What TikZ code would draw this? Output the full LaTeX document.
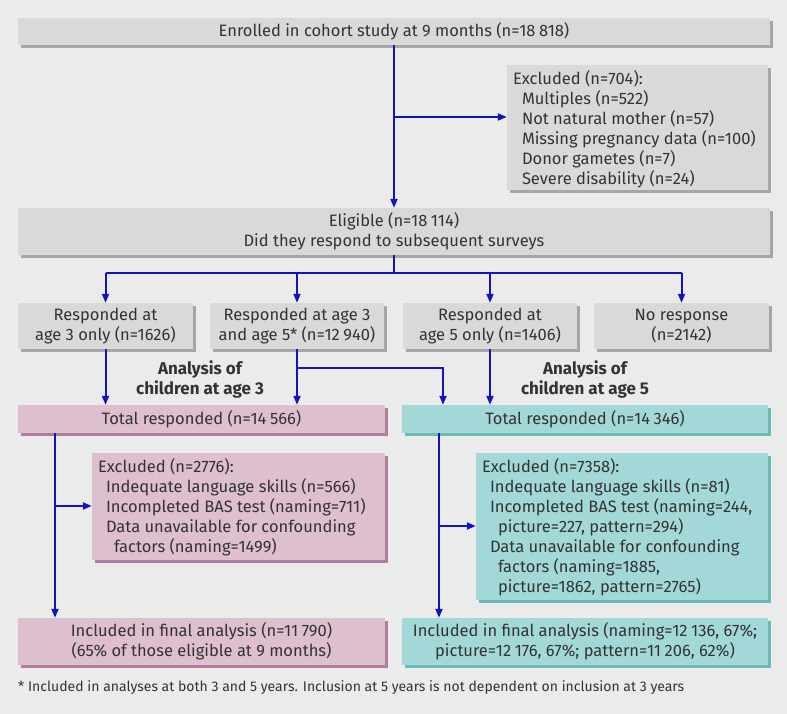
\documentclass[tikz,border=0pt]{standalone}
\usepackage{fontspec}
\setmainfont{Fira Sans}
\usetikzlibrary{arrows.meta,shadows}
\definecolor{bg}{HTML}{EBEBEB}
\definecolor{gbox}{HTML}{D9D9D9}
\definecolor{gshad}{HTML}{A6A6A6}
\definecolor{pbox}{HTML}{DDBFCF}
\definecolor{pshad}{HTML}{B07CA0}
\definecolor{tbox}{HTML}{A3D8D8}
\definecolor{tshad}{HTML}{6CBAB8}
\definecolor{arrowblue}{HTML}{1414BE}
\definecolor{txt}{HTML}{333333}
\newcommand{\exbox}[3]{\parbox[c][#2][t]{#1}{\raggedright #3}}
\newcommand{\nsp}{\hspace{0.22em}}
\begin{document}
\begin{tikzpicture}[x=1pt,y=-1pt,
  font=\fontsize{16.5}{20}\selectfont, text=txt,
  box/.style={inner sep=0pt, align=center},
  graybox/.style={box, fill=gbox, general shadow={fill=gshad, shadow xshift=3pt, shadow yshift=-3pt}},
  pinkbox/.style={box, fill=pbox, general shadow={fill=pshad, shadow xshift=3pt, shadow yshift=-3pt}},
  tealbox/.style={box, fill=tbox, general shadow={fill=tshad, shadow xshift=3pt, shadow yshift=-3pt}},
  exclbox/.style={inner xsep=6pt, inner ysep=6pt},
  ln/.style={draw=arrowblue, line width=2pt},
  arr/.style={ln, -{Triangle[length=9pt,width=7pt]}},
  headlabel/.style={font=\fontsize{17}{20}\selectfont\bfseries, align=center}
]
\fill[bg] (0,0) rectangle (787,714);
\useasboundingbox (0,0) rectangle (787,714);

\node[graybox, minimum width=752pt, minimum height=27pt] (top) at (394,31.5)
  {Enrolled in cohort study at 9 months (n=18\nsp818)};
\node[graybox, exclbox, anchor=center] (ex1) at (637.5,127.5)
  {\exbox{249pt}{113pt}{Excluded (n=704):\\
   \hspace*{9pt}Multiples (n=522)\\
   \hspace*{9pt}Not natural mother (n=57)\\
   \hspace*{9pt}Missing pregnancy data (n=100)\\
   \hspace*{9pt}Donor gametes (n=7)\\
   \hspace*{9pt}Severe disability (n=24)}};
\node[graybox, minimum width=752pt, minimum height=47pt] (elig) at (394,231.5)
  {Eligible (n=18\nsp114)\\Did they respond to subsequent surveys};

\node[graybox, minimum width=175pt, minimum height=46pt] (r1) at (105.5,326)
  {Responded at\\age 3 only (n=1626)};
\node[graybox, minimum width=174pt, minimum height=46pt] (r2) at (297,326)
  {Responded at age 3\\and age 5* (n=12\nsp940)};
\node[graybox, minimum width=174pt, minimum height=46pt] (r3) at (490,326)
  {Responded at\\age 5 only (n=1406)};
\node[graybox, minimum width=175pt, minimum height=46pt] (r4) at (681.5,326)
  {No response\\(n=2142)};

\node[headlabel] (h3) at (200,379) {Analysis of\\children at age 3};
\node[headlabel] (h5) at (585,379) {Analysis of\\children at age 5};

\node[pinkbox, minimum width=367pt, minimum height=28pt] (tot3) at (201.5,419)
  {Total responded (n=14\nsp566)};
\node[tealbox, minimum width=366pt, minimum height=28pt] (tot5) at (585,419)
  {Total responded (n=14\nsp346)};

\node[pinkbox, exclbox, anchor=center] (ex3) at (238.5,506.5)
  {\exbox{281pt}{95pt}{Excluded (n=2776):\\
   \hspace*{8pt}Indequate language skills (n=566)\\
   \hspace*{8pt}Incompleted BAS test (naming=711)\\
   \hspace*{8pt}Data unavailable for confounding\\
   \hspace*{16pt}factors (naming=1499)}};
\node[tealbox, exclbox, anchor=center] (ex5) at (622,526.5)
  {\exbox{280pt}{135pt}{Excluded (n=7358):\\
   \hspace*{8pt}Indequate language skills (n=81)\\
   \hspace*{8pt}Incompleted BAS test (naming=244,\\
   \hspace*{16pt}picture=227, pattern=294)\\
   \hspace*{8pt}Data unavailable for confounding\\
   \hspace*{16pt}factors (naming=1885,\\
   \hspace*{16pt}picture=1862, pattern=2765)}};

\node[pinkbox, minimum width=367pt, minimum height=47pt] (fin3) at (201.5,641.5)
  {Included in final analysis (n=11\nsp790)\\(65\% of those eligible at 9 months)};
\node[tealbox, minimum width=366pt, minimum height=47pt] (fin5) at (585,641.5)
  {Included in final analysis (naming=12\nsp136, 67\%;\\picture=12\nsp176, 67\%; pattern=11\nsp206, 62\%)};

\node[anchor=west, inner sep=0pt, font=\fontsize{14}{16}\selectfont] (foot) at (18,688)
  {* Included in analyses at both 3 and 5 years. Inclusion at 5 years is not dependent on inclusion at 3 years};

% connectors
\draw[arr] (top.south) -- (elig.north);
\coordinate (b1) at (394,117);
\draw[arr] (b1) -- (b1 -| ex1.west);
\coordinate (j1) at (394,273);
\draw[ln] (elig.south) -- (j1);
\draw[ln] (j1 -| r1.north) -- (j1 -| r4.north);
\draw[arr] (j1 -| r1.north) -- (r1.north);
\draw[arr] (j1 -| r2.north) -- (r2.north);
\draw[arr] (j1 -| r3.north) -- (r3.north);
\draw[arr] (j1 -| r4.north) -- (r4.north);
\draw[arr] (r1.south) -- (r1.south |- tot3.north);
\draw[arr] (r2.south) -- (r2.south |- tot3.north);
\coordinate (b2) at (297,368);
\coordinate (b2e) at (443,368);
\draw[arr] (b2) -- (b2e) -- (b2e |- tot5.north);
\draw[arr] (r3.south) -- (r3.south |- tot5.north);
\coordinate (c3) at (55,506);
\draw[arr] (tot3.south -| c3) -- (fin3.north -| c3);
\draw[arr] (c3) -- (c3 -| ex3.west);
\coordinate (c5) at (439,526);
\draw[arr] (tot5.south -| c5) -- (fin5.north -| c5);
\draw[arr] (c5) -- (c5 -| ex5.west);
\end{tikzpicture}
\end{document}
